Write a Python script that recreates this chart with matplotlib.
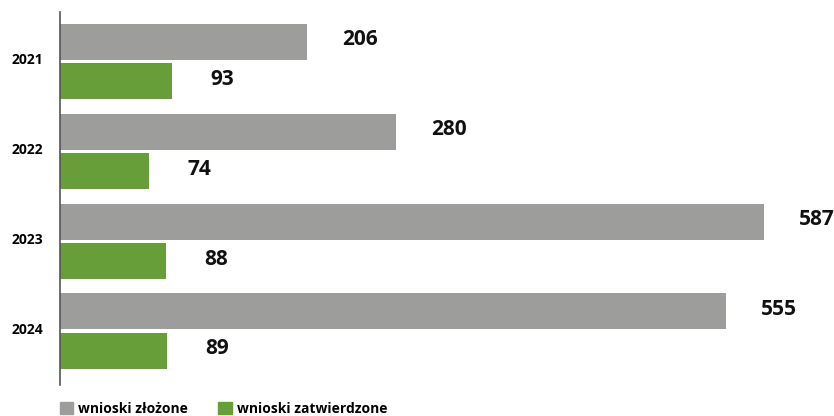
import matplotlib
matplotlib.use("Agg")
import matplotlib.pyplot as plt
import matplotlib.transforms as mtransforms
from matplotlib.patches import Patch
import numpy as np

years = ["2021", "2022", "2023", "2024"]
zlozone = [206, 280, 587, 555]
zatwierdzone = [93, 74, 88, 89]
series_names = ["wnioski złożone", "wnioski zatwierdzone"]
colors = ["#9d9d9c", "#679e3a"]

plt.rcParams['font.family'] = ['Open Sans', 'DejaVu Sans']

W, H = 834, 416
fig = plt.figure(figsize=(W / 100, H / 100), dpi=100)
ax = fig.add_axes([60 / W, (H - 385) / H, (W - 60) / W, (385 - 12) / H])

y = np.arange(len(years))
h = 0.40
off = 0.22
ax.barh(y - off, zlozone, height=h, color=colors[0])
ax.barh(y + off, zatwierdzone, height=h, color=colors[1])

up = mtransforms.ScaledTranslation(0, 2 / 100, fig.dpi_scale_trans)
for yi, v in zip(y, zlozone):
    ax.text(v + 29, yi - off, str(v), ha='left', va='center', fontsize=15, fontweight='bold',
            color='#111111', transform=ax.transData + up)
for yi, v in zip(y, zatwierdzone):
    ax.text(v + 32, yi + off, str(v), ha='left', va='center', fontsize=15, fontweight='bold',
            color='#111111', transform=ax.transData + up)

ax.set_xlim(0, (W - 60) / 1.2)
ax.set_ylim(3.60, -0.553)
ax.set_yticks(y)
ax.set_yticklabels(years, fontsize=10, fontweight='bold')
ax.tick_params(axis='y', length=0, pad=12)
up3 = mtransforms.ScaledTranslation(0, 3 / 100, fig.dpi_scale_trans)
for lab in ax.get_yticklabels():
    lab.set_transform(lab.get_transform() + up3)
ax.set_xticks([])
for s in ['top', 'right', 'bottom']:
    ax.spines[s].set_visible(False)
ax.spines['left'].set_color('#555555')
ax.spines['left'].set_linewidth(1.2)

handles = [Patch(color=c, label=n) for c, n in zip(colors, series_names)]
leg = fig.legend(handles=handles, loc='lower left', bbox_to_anchor=(60 / W, 0.0), ncol=2,
                 frameon=False, handlelength=0.95, handleheight=0.95, handletextpad=0.35,
                 columnspacing=2.2, borderpad=0, borderaxespad=0,
                 prop={'size': 10, 'weight': 'bold'})

fig.savefig("out.png", dpi=100)
